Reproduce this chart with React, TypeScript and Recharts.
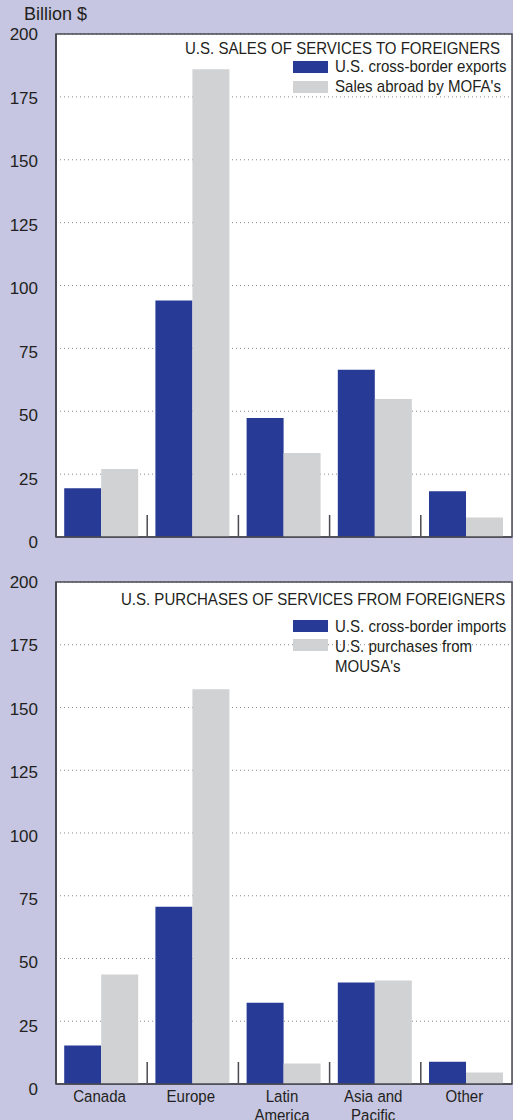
import React from 'react';
import { BarChart, Bar, XAxis, YAxis, CartesianGrid, Legend, ReferenceArea } from 'recharts';

const categories = ['Canada', 'Europe', 'Latin America', 'Asia and Pacific', 'Other'];
const categoryLines = [['Canada'], ['Europe'], ['Latin', 'America'], ['Asia and', 'Pacific'], ['Other']];

const salesExports = [19.4, 94.0, 47.3, 66.5, 18.2];
const salesMofa = [27.0, 186.0, 33.4, 54.9, 7.8];

const purchImports = [15.3, 70.6, 32.4, 40.4, 8.9];
const purchMousa = [43.6, 157.3, 8.2, 41.2, 4.6];

const yTicks = [0, 25, 50, 75, 100, 125, 150, 175, 200];

const topTitle = 'U.S. SALES OF SERVICES TO FOREIGNERS';
const topNames = ['U.S. cross-border exports', "Sales abroad by MOFA's"];
const bottomTitle = 'U.S. PURCHASES OF SERVICES FROM FOREIGNERS';
const bottomNames = ['U.S. cross-border imports', "U.S. purchases from MOUSA's"];
const unitLabel = 'Billion $';

const BG = '#c6c6e2';
const BLUE = '#263a96';
const GRAY = '#d1d2d4';
const TEXT = '#231f20';
const FRAME = '#4a4a52';
const SANS = '"Liberation Sans", Arial, Helvetica, sans-serif';
const SQ = 0.885;

const topData = categories.map((c, i) => ({ name: c, a: salesExports[i], b: salesMofa[i] }));
const bottomData = categories.map((c, i) => ({ name: c, a: purchImports[i], b: purchMousa[i] }));

const W = 513;
const H = 560;
const PLOT_W = 456;
const HALF_BAND = PLOT_W / categories.length / 2;

const YTick = (props: any) => {
  const { x, y, payload } = props;
  const v = payload.value;
  const dy = 6 + (200 - v) * 0.025;
  return (
    <text x={x - 10} y={y} dy={dy} textAnchor="end" fontSize={17} fill={TEXT} fontFamily={SANS}>
      {v}
    </text>
  );
};

const makeXTick = (showLabels: boolean) => (props: any) => {
  const { x, y, index } = props;
  return (
    <g>
      {index > 0 && (
        <line x1={x - HALF_BAND} x2={x - HALF_BAND} y1={y - 1} y2={y - 22} stroke={FRAME} strokeWidth={1.5} />
      )}
      {showLabels &&
        categoryLines[index].map((ln, k) => (
          <text
            key={k}
            transform={`translate(${x - 2},${y + 18 + k * 19}) scale(${SQ},1)`}
            textAnchor="middle"
            fontSize={17}
            fill={TEXT}
            fontFamily={SANS}
          >
            {ln}
          </text>
        ))}
    </g>
  );
};

const makeLegend = (title: string, titleTop: number, titleRight: number, swatchTops: number[], textTops: number[]) => (props: any) => {
  const payload = props.payload || [];
  const common: React.CSSProperties = {
    position: 'absolute',
    fontFamily: SANS,
    color: TEXT,
    fontSize: 17,
    lineHeight: '20px',
  };
  return (
    <div style={{ position: 'relative', width: W, height: 0 }}>
      <div
        style={{
          ...common,
          right: W - titleRight,
          top: titleTop,
          whiteSpace: 'nowrap',
          transform: `scaleX(${SQ})`,
          transformOrigin: 'right top',
        }}
      >
        {title}
      </div>
      {payload.map((p: any, i: number) => (
        <React.Fragment key={i}>
          <div style={{ position: 'absolute', left: 293, top: swatchTops[i], width: 35, height: 12, background: p.color }} />
          <div
            style={{
              ...common,
              left: 335,
              top: textTops[i],
              width: 200,
              transform: `scaleX(${SQ})`,
              transformOrigin: 'left top',
            }}
          >
            {p.value}
          </div>
        </React.Fragment>
      ))}
    </div>
  );
};

const Panel = ({ data, names, showLabels, marginTop, xHeight, marginBottom, legend }: any) => (
  <BarChart
    width={W}
    height={H}
    data={data}
    margin={{ top: marginTop, right: 1, left: 0, bottom: marginBottom }}
    barCategoryGap="9%"
    barGap={0}
  >
    <CartesianGrid vertical={false} fill="#ffffff" fillOpacity={1} stroke="#8a8a8a" strokeDasharray="1 3" strokeWidth={1} />
    <XAxis
      dataKey="name"
      height={xHeight}
      axisLine={{ stroke: FRAME, strokeWidth: 1.5 }}
      tickLine={false}
      tickSize={0}
      tickMargin={0}
      interval={0}
      tick={makeXTick(showLabels)}
    />
    <YAxis
      domain={[0, 200]}
      ticks={yTicks}
      width={56}
      interval={0}
      axisLine={{ stroke: FRAME, strokeWidth: 2 }}
      tickLine={false}
      tick={<YTick />}
    />
    <Legend
      layout="horizontal"
      verticalAlign="middle"
      align="center"
      itemSorter="dataKey"
      content={legend}
      wrapperStyle={{ position: 'absolute', top: 0, left: 0, width: W, height: 0 }}
    />
    <Bar dataKey="a" name={names[0]} fill={BLUE} isAnimationActive={false} />
    <Bar dataKey="b" name={names[1]} fill={GRAY} isAnimationActive={false} />
    <ReferenceArea y1={0} y2={200} fill="none" stroke={FRAME} strokeWidth={1.5} />
  </BarChart>
);

export default function App() {
  return (
    <div style={{ position: 'absolute', left: 0, top: 0, width: W, height: 1120, background: BG, overflow: 'hidden' }}>
      <div style={{ position: 'absolute', left: 24, top: 4, fontSize: 18, fontFamily: SANS, color: TEXT }}>{unitLabel}</div>
      <div style={{ position: 'absolute', left: 0, top: 0 }}>
        <Panel
          data={topData}
          names={topNames}
          showLabels={false}
          marginTop={34}
          xHeight={1}
          marginBottom={22}
          legend={makeLegend(topTitle, 39, 500, [61, 81], [57, 77])}
        />
      </div>
      <div style={{ position: 'absolute', left: 0, top: 560 }}>
        <Panel
          data={bottomData}
          names={bottomNames}
          showLabels={true}
          marginTop={22}
          xHeight={36}
          marginBottom={0}
          legend={makeLegend(bottomTitle, 30, 505, [60, 79], [57, 77])}
        />
      </div>
    </div>
  );
}
